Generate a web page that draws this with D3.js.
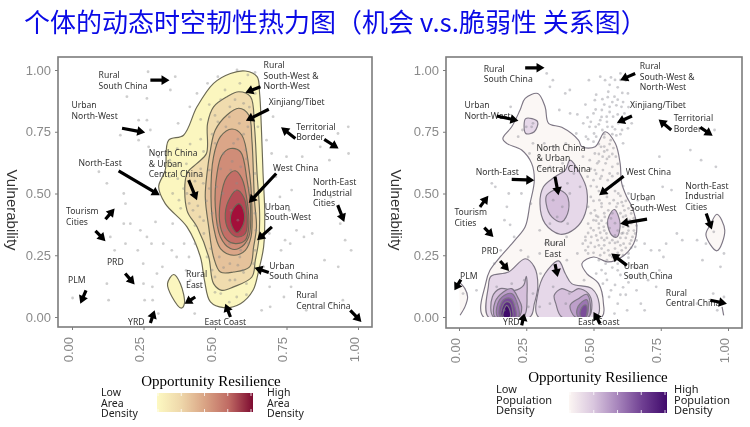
<!DOCTYPE html>
<html><head><meta charset="utf-8">
<script src="https://cdn.jsdelivr.net/npm/d3@7"></script>
<style>html,body{margin:0;padding:0;background:#fff}svg{display:block;filter:blur(0.45px)}</style>
</head><body><svg id="c" width="750" height="427"></svg>
<script>
const tickValues=[0,0.25,0.5,0.75,1];
const titleText="个体的动态时空韧性热力图（机会 v.s.脆弱性 关系图）";
const areaContours=[
[[.606,.996],[.647,.973],[.656,.905],[.662,.770],[.668,.581],[.674,.419],[.670,.284],[.653,.189],[.633,.108],[.589,.054],[.530,.038],[.484,.061],[.463,.149],[.449,.243],[.402,.365],[.326,.459],[.303,.527],[.326,.595],[.338,.716],[.390,.736],[.437,.851],[.495,.946],[.554,.986]],
[[.355,.172],[.379,.135],[.393,.054],[.382,.036],[.350,.081],[.334,.135]],
[[.583,.912],[.624,.892],[.638,.770],[.647,.581],[.656,.419],[.653,.311],[.641,.230],[.629,.162],[.565,.122],[.524,.108],[.495,.135],[.478,.243],[.437,.365],[.402,.432],[.402,.581],[.437,.622],[.470,.662],[.474,.784],[.495,.851],[.542,.892]],
[[.583,.845],[.618,.818],[.629,.716],[.638,.473],[.645,.365],[.635,.284],[.621,.203],[.565,.182],[.519,.182],[.495,.243],[.478,.365],[.466,.486],[.472,.581],[.484,.676],[.501,.757],[.542,.818]],
[[.559,.761],[.594,.736],[.618,.608],[.629,.446],[.626,.324],[.606,.270],[.565,.250],[.519,.277],[.495,.365],[.486,.486],[.495,.649],[.519,.730]],
[[.554,.682],[.589,.669],[.612,.554],[.624,.446],[.618,.324],[.583,.277],[.554,.277],[.519,.324],[.501,.446],[.507,.581],[.524,.655]],
[[.571,.592],[.594,.561],[.612,.473],[.618,.365],[.606,.311],[.571,.297],[.542,.311],[.519,.365],[.519,.473],[.542,.568]],
[[.577,.514],[.600,.486],[.612,.419],[.606,.338],[.577,.324],[.548,.351],[.536,.419],[.554,.486]],
[[.583,.459],[.600,.432],[.600,.378],[.577,.341],[.556,.378],[.559,.426]]
];
const areaLevels=[0,0,1,2,3,4,5,6,7];
const areaColors=["#fbf6bf","#f0dcae","#e5c29b","#dba688","#d08d78","#c46e67","#b34a55","#a30f3a"];
const popContours=[
[[.091,0],[.099,.135],[.115,.189],[.153,.243],[.208,.311],[.246,.365],[.264,.459],[.280,.554],[.270,.622],[.233,.676],[.177,.703],[.163,.723],[.196,.770],[.227,.838],[.246,.885],[.293,.905],[.320,.851],[.333,.784],[.382,.768],[.444,.716],[.457,.689],[.506,.689],[.543,.750],[.581,.703],[.599,.622],[.605,.541],[.624,.486],[.643,.446],[.661,.365],[.649,.297],[.605,.243],[.556,.223],[.500,.243],[.457,.216],[.475,.176],[.519,.135],[.537,.054],[.531,0]],
[[.959,.416],[.988,.351],[.959,.268],[.918,.332],[.934,.373]],
[[.248,.803],[.292,.791],[.280,.750],[.248,.743]],
[[.413,.635],[.450,.581],[.475,.514],[.469,.419],[.432,.358],[.376,.335],[.320,.378],[.301,.459],[.314,.527],[.357,.568],[.395,.595]],
[[.109,0],[.109,.122],[.119,.165],[.184,.182],[.246,.236],[.280,.203],[.293,.122],[.280,.054],[.264,0]],
[[.295,0],[.293,.095],[.320,.176],[.370,.227],[.395,.176],[.419,.135],[.494,.115],[.521,.054],[.512,0]],
[[.364,.516],[.401,.493],[.407,.432],[.382,.385],[.345,.405],[.324,.459],[.326,.493]],
[[.578,.435],[.599,.378],[.587,.324],[.568,.331],[.552,.378],[.559,.412]],
[[.128,0],[.124,.081],[.153,.115],[.208,.108],[.240,.128],[.250,.165],[.253,.095],[.240,0]],
[[.382,0],[.360,.054],[.354,.088],[.382,.115],[.419,.101],[.444,.115],[.481,.095],[.494,.054],[.481,0]],
[[.134,0],[.134,.061],[.165,.101],[.196,.115],[.221,.074],[.233,.041],[.221,0]],
[[.432,0],[.413,.047],[.444,.074],[.475,.092],[.488,.054],[.481,0]],
[[.144,0],[.144,.054],[.169,.088],[.196,.095],[.215,.061],[.221,0]],
[[.444,0],[.438,.027],[.457,.061],[.475,.070],[.481,.041],[.471,0]],
[[.153,0],[.153,.047],[.171,.074],[.194,.074],[.208,.041],[.211,0]],
[[.454,0],[.450,.020],[.463,.047],[.474,.047],[.471,0]],
[[.159,0],[.161,.041],[.174,.061],[.190,.057],[.199,.027],[.199,0]],
[[.165,0],[.169,.034],[.177,.047],[.187,.034],[.190,0]]
];
const popLevels=[0,0,1,1,1,1,2,2,2,2,3,3,4,4,5,5,6,7];
const popColors=["#fbf7f5","#e6d8e9","#d6c0dc","#bd9fca","#9c76b2","#7a4c98","#5a2a80","#3f0a6a"];
const popOpenEdges=[
[[0,.142],[.022,.115],[.032,.081],[.022,.041],[.004,.007]],
[[.978,.041],[.984,.007]]
];
const areaPoints=[[.266,.993],[.361,.973],[.344,.919],[.192,.892],[.262,.885],[.233,.797],[.262,.797],[.274,.757],[.169,.736],[.233,.716],[.268,.689],[.122,.541],[.094,.588],[.181,.5],[.187,.459],[.181,.378],[.134,.324],[.204,.378],[.239,.351],[.262,.324],[.149,.270],[.187,.297],[.230,.270],[.278,.297],[.249,.216],[.122,.135],[.002,.077],[.128,.068],[.250,.135],[.281,.122],[.297,.176],[.316,.203],[.319,.297],[.349,.270],[.366,.243],[.254,.068],[.282,.068],[.302,.014],[.419,.068],[.429,.014],[.436,.122],[.413,.149],[.399,.189],[.352,.378],[.292,.385],[.392,.297],[.409,.243],[.422,.176],[.342,.635],[.302,.649],[.371,.784],[.412,.851],[.437,.905],[.510,.973],[.577,1],[.615,.98],[.474,.946],[.520,.88],[.450,.80],[.413,.70],[.368,.682],[.341,.568],[.352,.500],[.374,.473],[.402,.5],[.423,.432],[.447,.405],[.461,.338],[.485,.277],[.5,.162],[.52,.095],[.552,.149],[.576,.081],[.610,.135],[.597,.189],[.552,.216],[.515,.243],[.551,.297],[.587,.243],[.635,.216],[.616,.297],[.534,.351],[.580,.392],[.556,.432],[.528,.500],[.576,.541],[.505,.527],[.480,.595],[.555,.595],[.590,.608],[.530,.662],[.501,.703],[.565,.703],[.608,.676],[.538,.770],[.585,.784],[.615,.770],[.500,.816],[.552,.851],[.600,.865],[.535,.919],[.587,.946],[.641,.905],[.640,.581],[.650,.770],[.632,.473],[.643,.351],[.670,.203],[.703,.811],[.731,.270],[.763,.297],[.741,.081],[.693,.041],[.691,.122],[.663,.027],[.745,.311],[.785,.351],[.811,.324],[.840,.338],[.760,.432],[.727,.486],[.768,.514],[.722,.595],[.698,.662],[.750,.649],[.805,.649],[.868,.689],[.900,.635],[.966,.770],[.930,.743],[.967,.662],[.905,.486],[.938,.378],[.955,.311],[.976,.270],[.883,.230],[.931,.203],[.720,.162],[.766,.122],[.795,.162],[.819,.027],[.904,.054],[.947,.068],[.690,.338],[.713,.568],[.680,.716],[.691,.93],[.64,.99],[.57,.514],[.459,.541],[.42,.5],[.472,.243],[.43,.297],
[.35,.62],[.37,.56],[.39,.52],[.41,.46],[.43,.55],[.45,.60],[.46,.67],[.49,.74],[.51,.79],[.55,.81],[.58,.72],[.61,.64],[.62,.52],[.64,.42],[.59,.27],[.53,.20],[.49,.19],[.57,.15],[.61,.09],[.55,.06],[.50,.10],[.47,.47],[.49,.42],[.51,.37],[.46,.39],[.44,.45],[.43,.37],[.48,.52],[.52,.60],[.56,.63],[.60,.74],[.62,.85],[.57,.88],[.48,.86],[.45,.72],[.40,.62],[.38,.44],[.60,.18],[.64,.27],[.58,.21]];
const popPoints=[[.326,.986],[.349,.959],[.338,.932],[.412,.919],[.395,.905],[.483,.959],[.505,.878],[.525,.973],[.543,.959],[.565,.970],[.600,.986],[.620,.957],[.590,.93],[.555,.912],[.508,.84],[.533,.882],[.553,.89],[.578,.892],[.607,.907],[.628,.905],[.646,.864],[.604,.851],[.585,.857],[.560,.851],[.531,.838],[.500,.824],[.478,.808],[.462,.784],[.485,.770],[.508,.770],[.525,.797],[.549,.811],[.573,.811],[.592,.784],[.615,.824],[.642,.784],[.628,.764],[.606,.757],[.570,.770],[.552,.770],[.533,.757],[.502,.743],[.472,.730],[.436,.743],[.413,.824],[.373,.838],[.192,.851],[.275,.784],[.220,.730],[.275,.703],[.317,.703],[.352,.689],[.397,.703],[.540,.727],[.564,.716],[.585,.735],[.610,.703],[.528,.689],[.551,.676],[.574,.684],[.505,.662],[.534,.649],[.558,.649],[.583,.649],[.461,.649],[.486,.635],[.514,.622],[.545,.622],[.570,.608],[.505,.595],[.535,.595],[.560,.581],[.590,.581],[.478,.568],[.500,.554],[.525,.560],[.553,.554],[.580,.541],[.608,.568],[.512,.527],[.540,.514],[.565,.527],[.592,.5],[.450,.527],[.490,.486],[.522,.473],[.550,.486],[.575,.473],[.605,.465],[.630,.500],[.665,.473],[.480,.446],[.505,.432],[.530,.446],[.555,.432],[.585,.446],[.615,.432],[.640,.419],[.517,.405],[.542,.405],[.565,.399],[.610,.405],[.635,.392],[.500,.392],[.480,.378],[.520,.378],[.538,.365],[.610,.365],[.630,.365],[.655,.338],[.500,.351],[.525,.341],[.548,.338],[.570,.311],[.605,.338],[.625,.338],[.645,.324],[.470,.324],[.492,.324],[.515,.311],[.540,.311],[.590,.304],[.612,.297],[.635,.297],[.655,.284],[.690,.297],[.460,.297],[.480,.284],[.505,.284],[.530,.277],[.555,.270],[.580,.277],[.605,.270],[.630,.257],[.480,.257],[.440,.257],[.525,.250],[.570,.243],[.545,.216],[.590,.216],[.650,.203],[.670,.176],[.640,.162],[.590,.189],[.545,.176],[.510,.176],[.535,.135],[.565,.108],[.610,.120],[.590,.054],[.558,.081],[.660,.108],[.676,.054],[.703,.149],[.733,.122],[.745,.189],[.780,.162],[.790,.054],[.690,.027],[.625,.027],[.578,.014],[.400,.324],[.361,.297],[.321,.297],[.300,.257],[.257,.243],[.205,.324],[.169,.392],[.190,.373],[.081,.446],[.122,.541],[.135,.527],[.178,.446],[.185,.500],[.232,.500],[.267,.459],[.300,.351],[.340,.297],[.401,.230],[.230,.270],[.155,.270],[.131,.216],[.065,.108],[.015,.095],[.243,.149],[.275,.095],[.300,.041],[.258,.041],[.196,.135],[.140,.122],[.168,.027],[.210,.054],[.350,.122],[.397,.054],[.410,.095],[.445,.041],[.465,.149],[.338,.054],[.303,.176],[.350,.473],[.384,.446],[.365,.405],[.338,.378],[.404,.378],[.412,.500],[.403,.541],[.427,.581],[.385,.622],[.338,.608],[.300,.608],[.262,.662],[.236,.757],[.250,.770],[.270,.770],[.950,.757],[.745,.649],[.860,.676],[.900,.635],[.955,.608],[.757,.527],[.700,.473],[.720,.446],[.790,.514],[.885,.311],[.918,.297],[.947,.345],[.985,.257],[.972,.203],[.714,.270],[.760,.243],[.830,.311],[.905,.230],[.885,.054],[.945,.095],[.985,.081],[.960,.027],[.745,.270],[.770,.297],[.810,.338],
[.50,.71],[.52,.70],[.54,.69],[.56,.70],[.52,.66],[.54,.67],[.57,.66],[.59,.62],[.55,.64],[.52,.63],[.49,.60],[.51,.58],[.53,.57],[.57,.57],[.59,.55],[.61,.53],[.49,.53],[.52,.51],[.55,.50],[.58,.51],[.60,.49],[.62,.47],[.50,.47],[.53,.46],[.56,.46],[.59,.46],[.61,.45],[.63,.44],[.49,.42],[.51,.41],[.54,.42],[.57,.42],[.60,.42],[.62,.41],[.65,.40],[.51,.39],[.53,.39],[.55,.38],[.58,.38],[.62,.38],[.64,.38],[.66,.37],[.49,.36],[.52,.36],[.54,.35],[.56,.36],[.59,.35],[.61,.34],[.63,.35],[.65,.35],[.48,.34],[.51,.33],[.53,.32],[.55,.32],[.58,.33],[.60,.32],[.62,.32],[.64,.31],[.66,.31],[.47,.31],[.49,.30],[.52,.29],[.54,.29],[.56,.30],[.58,.30],[.60,.29],[.62,.28],[.64,.28],[.47,.27],[.50,.26],[.54,.26],[.56,.25],[.59,.26],[.61,.25],[.63,.24],[.52,.23],[.55,.23],[.58,.23],[.60,.23],[.53,.19],[.57,.20],[.60,.17],[.55,.15],[.58,.13],[.63,.14],[.62,.09],[.60,.09],[.54,.86],[.57,.87],[.59,.88],[.61,.87],[.63,.85],[.53,.81],[.56,.83],[.59,.82],[.62,.80],[.52,.78],[.55,.79],[.58,.76],[.60,.74],[.57,.74],[.54,.74],[.51,.73],[.48,.72],[.49,.79],[.58,.96],[.56,.94],[.60,.96],[.51,.90],[.47,.86],[.44,.82]];
const areaLabels=[
["Rural\nSouth China",.093,.966],["Rural\nSouth-West &\nNorth-West",.670,1.007],["Urban\nNorth-West",-.002,.845],["Xinjiang/Tibet",.688,.858],["Territorial\nBorder",.784,.759],["North China\n& Urban\nCentral China",.268,.651],["North-East",.023,.611],["West China",.703,.592],["North-East\nIndustrial\nCities",.843,.534],["Urban\nSouth-West",.674,.435],["Tourism\nCities",-.021,.415],["PRD",.122,.209],["PLM",-.014,.139],["Rural\nEast",.399,.162],["Urban\nSouth China",.690,.196],["Rural\nCentral China",.784,.077],["YRD",.196,-.031],["East Coast",.463,-.034]];
const popLabels=[
["Rural\nSouth China",.092,.993],["Rural\nSouth-West &\nNorth-West",.672,1.003],["Urban\nNorth-West",.020,.845],["Xinjiang/Tibet",.636,.845],["Territorial\nBorder",.798,.793],["North China\n& Urban\nCentral China",.288,.673],["North-East",.062,.576],["West China",.620,.574],["North-East\nIndustrial\nCities",.841,.520],["Urban\nSouth-West",.636,.473],["Tourism\nCities",-.017,.412],["PRD",.084,.257],["PLM",.004,.154],["Rural\nEast",.318,.286],["Urban\nSouth China",.612,.196],["Rural\nCentral China",.769,.086],["YRD",.164,-.034],["East Coast",.442,-.034]];
const areaArrows=[[.274,.959,.341,.959],[.659,.932,.606,.908],[.175,.764,.256,.747],[.688,.841,.608,.795],[.781,.723,.731,.768],[.882,.719,.932,.682],[.163,.592,.307,.493],[.408,.554,.437,.473],[.714,.581,.618,.462],[.929,.453,.952,.385],[.699,.365,.647,.311],[.117,.396,.149,.439],[.082,.349,.117,.307],[.688,.180,.638,.199],[.186,.176,.219,.132],[.049,.108,.029,.054],[.431,.081,.394,.054],[.973,.027,1.012,-.020],[.274,-.024,.289,.027],[.554,0,.536,.054]];
const popArrows=[[.246,1.009,.318,1.009],[.655,.986,.599,.959],[.140,.814,.221,.795],[.643,.814,.587,.786],[.789,.757,.742,.800],[.897,.768,.943,.734],[.196,.557,.280,.554],[.357,.568,.370,.493],[.612,.570,.521,.493],[.919,.419,.940,.354],[.699,.396,.599,.378],[.078,.446,.109,.491],[.094,.362,.128,.324],[.624,.209,.566,.257],[.153,.227,.186,.186],[.007,.151,-.017,.108],[.357,.214,.367,.162],[.934,.068,.996,.054],[.233,-.034,.243,.014],[.525,-.027,.500,.020]];
const areaLegendStops=["#fdf9c2","#eed7aa","#d9a384","#bf6a63","#7d0a30"];
const popLegendStops=["#fcf6f3","#d9c6de","#a684bb","#6f3f92","#400a6c"];
const legendTicks=[0,.25,.5,.75,1];

const svg=d3.select("#c");
svg.append("text").attr("x",24).attr("y",32).attr("font-family","'Noto Sans CJK SC'").attr("font-size",26).attr("fill","#0a0ae6").text(titleText);
const defs=svg.append("defs");

function panel(o){
  const x=d3.scaleLinear().domain([0,1]).range(o.xr);
  const y=d3.scaleLinear().domain([0,1]).range([317,70]);
  const g=svg.append("g");
  const cid="clip"+o.id;
  defs.append("clipPath").attr("id",cid).append("rect").attr("x",o.bx[0]).attr("y",o.by[0]).attr("width",o.bx[1]-o.bx[0]).attr("height",y(0)-o.by[0]);
  const line=d3.line().x(d=>x(d[0])).y(d=>y(d[1])).curve(d3.curveCatmullRomClosed.alpha(.5));
  const openLine=d3.line().x(d=>x(d[0])).y(d=>y(d[1])).curve(d3.curveCatmullRom.alpha(.5));
  const cg=g.append("g").attr("clip-path",`url(#${cid})`);
  o.contours.forEach((c,i)=>{
    cg.append("path").attr("d",line(c)).attr("fill",o.colors[o.levels[i]]).attr("stroke",o.stroke).attr("stroke-width",o.sw);
  });
  (o.edges||[]).forEach(c=>{
    cg.append("path").attr("d",openLine(c)).attr("fill",o.colors[0]).attr("stroke",o.stroke).attr("stroke-width",o.sw);
  });
  g.selectAll("circle.p").data(o.points).join("circle").attr("class","p").attr("cx",d=>x(d[0])).attr("cy",d=>y(d[1])).attr("r",1.4).attr("fill",o.dot).attr("fill-opacity",.42);
  g.append("rect").attr("x",o.bx[0]).attr("y",o.by[0]).attr("width",o.bx[1]-o.bx[0]).attr("height",o.by[1]-o.by[0]).attr("fill","none").attr("stroke","#7c7c7c").attr("stroke-width",1.6);
  const ax=g.append("g").attr("transform",`translate(0,${o.by[1]})`).call(d3.axisBottom(x).tickValues(tickValues).tickFormat(d3.format(".2f")).tickSize(3));
  ax.select(".domain").remove();
  ax.selectAll("text").attr("transform","rotate(-90)").attr("x",-10).attr("y",0).attr("dy","-0.0em").attr("text-anchor","end").attr("font-family","'Liberation Sans'").attr("font-size",13).attr("fill","#8a8a8a");
  const ay=g.append("g").attr("transform",`translate(${o.bx[0]},0)`).call(d3.axisLeft(y).tickValues(tickValues).tickFormat(d3.format(".2f")).tickSize(3));
  ay.select(".domain").remove();
  ay.selectAll("text").attr("x",-7).attr("font-family","'Liberation Sans'").attr("font-size",13).attr("fill","#8a8a8a");
  [ax,ay].forEach(a=>a.selectAll("line").attr("stroke","#7c7c7c").attr("stroke-width",1));
  g.append("text").attr("transform",`translate(${o.ytx},210) rotate(90)`).attr("text-anchor","middle").attr("font-family","'Liberation Sans'").attr("font-size",15).attr("fill","#333").text("Vulnerability");
  o.labels.forEach(l=>{
    const t=g.append("text").attr("font-family","'Noto Sans'").attr("font-size",8.6).attr("fill","#333");
    l[0].split("\n").forEach((s,i)=>t.append("tspan").attr("x",x(l[1])).attr("y",y(l[2])+i*10.6).text(s));
  });
  g.selectAll("path.a").data(o.arrows).join("path").attr("class","a").attr("fill","#000").attr("d",a=>{
    const x1=x(a[0]),y1=y(a[1]),x2=x(a[2]),y2=y(a[3]);
    const L=Math.hypot(x2-x1,y2-y1),ux=(x2-x1)/L,uy=(y2-y1)/L,nx=-uy,ny=ux;
    const hl=Math.min(8,L*.6),hw=4.8,sw=1.6,bx=x2-ux*hl,by=y2-uy*hl;
    const pts=[[x1+nx*sw,y1+ny*sw],[bx+nx*sw,by+ny*sw],[bx+nx*hw,by+ny*hw],[x2,y2],[bx-nx*hw,by-ny*hw],[bx-nx*sw,by-ny*sw],[x1-nx*sw,y1-ny*sw]];
    return d3.line()(pts)+"Z";
  });
  g.append("text").attr("x",o.xtx).attr("y",o.xty).attr("text-anchor","middle").attr("font-family","'Liberation Serif'").attr("font-size",15).attr("fill","#000").text("Opportunity Resilience");
  const L=o.legend;
  const gid="grad"+o.id;
  const gr=defs.append("linearGradient").attr("id",gid);
  L.stops.forEach((c,i)=>gr.append("stop").attr("offset",i/(L.stops.length-1)).attr("stop-color",c));
  g.append("rect").attr("x",L.x[0]).attr("y",L.y[0]).attr("width",L.x[1]-L.x[0]).attr("height",L.y[1]-L.y[0]).attr("fill",`url(#${gid})`);
  const lx=d3.scaleLinear().domain([0,1]).range([L.x[0]+1,L.x[1]-2]);
  legendTicks.forEach(v=>{
    [[L.y[0],L.y[0]+3],[L.y[1]-3,L.y[1]]].forEach(s=>g.append("line").attr("x1",lx(v)).attr("x2",lx(v)).attr("y1",s[0]).attr("y2",s[1]).attr("stroke","#fff").attr("stroke-width",.8));
  });
  L.texts.forEach(tx=>{
    const t=g.append("text").attr("font-family","'Noto Sans'").attr("font-size",L.fs).attr("fill","#222");
    tx[0].forEach((s,i)=>t.append("tspan").attr("x",tx[1]).attr("y",tx[2]+i*L.lh).text(s));
  });
}
panel({id:"a",xr:[72,358],bx:[58,372],by:[57,327],contours:areaContours,levels:areaLevels,colors:areaColors,stroke:"#6a6854",sw:1.15,points:areaPoints,dot:"#8a8a8a",labels:areaLabels,arrows:areaArrows,ytx:7,xtx:211,xty:386,
 legend:{x:[157,253],y:[393,412],stops:areaLegendStops,fs:10.5,lh:10.6,texts:[[["Low","Area","Density"],101,396],[["High","Area","Density"],267,396]]}});
panel({id:"b",xr:[459,728],bx:[446,742],by:[57,328],contours:popContours,levels:popLevels,colors:popColors,stroke:"#7d7684",sw:1.15,points:popPoints,dot:"#858590",labels:popLabels,arrows:popArrows,edges:popOpenEdges,ytx:391,xtx:598,xty:382,
 legend:{x:[569,667],y:[392,413],stops:popLegendStops,fs:11,lh:10.6,texts:[[["Low","Population","Density"],496,393],[["High","Population","Density"],674,393]]}});
</script></body></html>
